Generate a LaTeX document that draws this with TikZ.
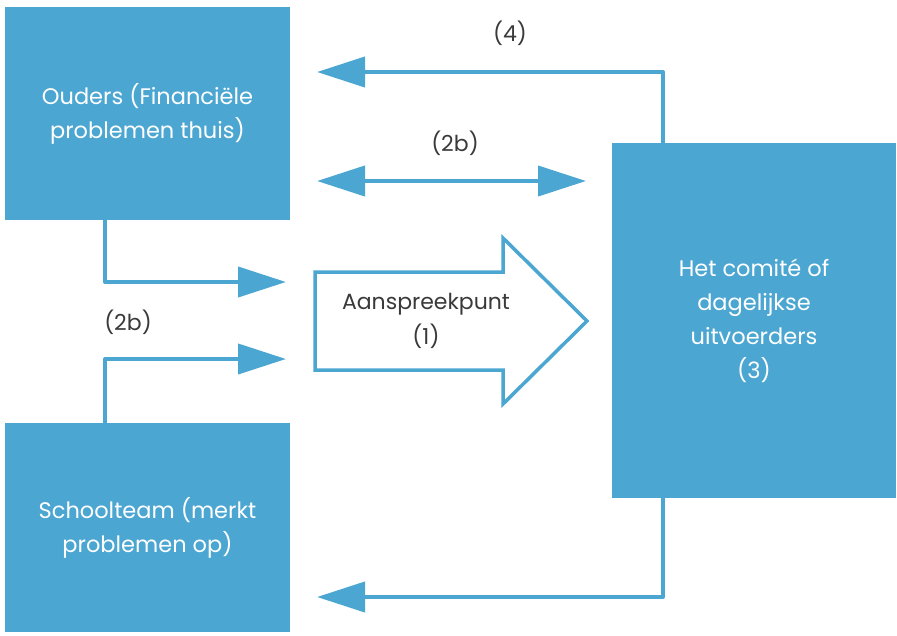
\documentclass[tikz,border=0pt]{standalone}
\usepackage{fontspec}
\setmainfont{Poppins}
\usepackage{xcolor}
\usetikzlibrary{arrows.meta}
\definecolor{boxblue}{HTML}{4CA6D2}
\definecolor{textgrey}{HTML}{3A3A3A}

\begin{document}
\begin{tikzpicture}[x=1pt, y=-1pt,
	box/.style={rectangle, fill=boxblue, text=white, align=center, font=\fontsize{22.5}{34}\selectfont, inner sep=0pt},
	link/.style={draw=boxblue, line width=4pt, line join=round, -{Triangle[length=48pt, width=30pt]}},
	lbl/.style={text=textgrey, font=\fontsize{22}{35}\selectfont, align=center}]

\useasboundingbox (0,0) rectangle (897,635);

% Boxes
\node[box, minimum width=285pt, minimum height=213pt] (ouders) at (147.5,113.5) {Ouders (Financiële\\problemen thuis)};
\node[box, minimum width=285pt, minimum height=209pt] (school) at (147.5,527.5) {Schoolteam (merkt\\problemen op)};
\node[box, minimum width=284pt, minimum height=355pt] (comite) at (754,320.5) {Het comité of\\dagelijkse\\uitvoerders\\(3)};

% Contact point
\draw[boxblue, line width=3.5pt, line join=miter] (315,272) -- (503,272) -- (503,238) -- (587,321) -- (503,404) -- (503,370) -- (315,370) -- cycle;
\node[lbl] (punt) at (426,321) {Aanspreekpunt\\(1)};

% Free ends
\coordinate (in1) at (286,282);
\coordinate (in2) at (286,359);
\coordinate (back4) at (317,72);
\coordinate (back5) at (317,597);
\coordinate (dl) at (317,181);
\coordinate (dr) at (586,181);

% Connections
\draw[link] ([xshift=-42.5pt]ouders.south) |- (in1);
\draw[link] ([xshift=-42.5pt]school.north) |- (in2);
\draw[link] ([xshift=-91pt]comite.north) |- (back4);
\draw[link] ([xshift=-91pt]comite.south) |- (back5);
\draw[link, {Triangle[length=48pt, width=30pt]}-{Triangle[length=48pt, width=30pt]}] (dl) -- (dr);

% Labels
\node[lbl] (l4) at (510,33) {(4)};
\node[lbl] (l2a) at (455,143) {(2b)};
\node[lbl] (l2b) at (128,322) {(2b)};
\end{tikzpicture}
\end{document}
